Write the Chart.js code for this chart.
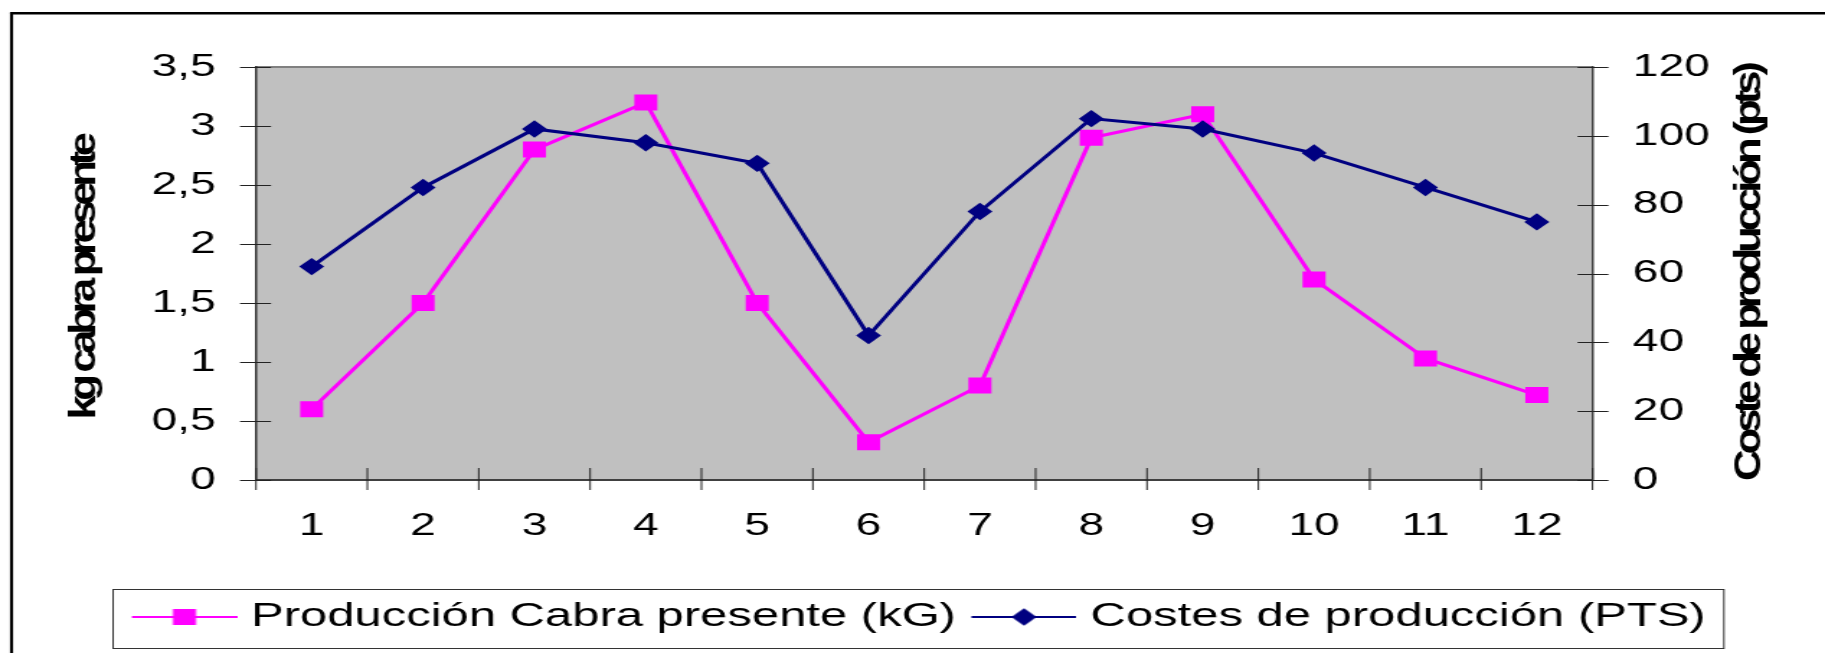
<!DOCTYPE html>
<html><head><meta charset="utf-8">
<script src="https://cdn.jsdelivr.net/npm/chart.js@4/dist/chart.umd.min.js"></script>
<style>html,body{margin:0;padding:0;background:#fff;overflow:hidden}
#c{display:block}</style></head>
<body><canvas id="c" width="1267" height="653" style="width:1825px;height:653px"></canvas>
<script>
// ---- data ----
const months = ['1','2','3','4','5','6','7','8','9','10','11','12'];
const produccion = [0.6, 1.5, 2.8, 3.2, 1.5, 0.32, 0.8, 2.9, 3.1, 1.7, 1.03, 0.72];
const costes = [62, 85, 102, 98, 92, 42, 78, 105, 102, 95, 85, 75];
const leftTickLabels = ['0','0,5','1','1,5','2','2,5','3','3,5'];
const rightTickLabels = ['0','20','40','60','80','100','120'];
const seriesNames = ['Producción Cabra presente (kG)', 'Costes de producción (PTS)'];
const axisTitles = ['kg cabra presente', 'Coste de producción (pts)'];

// ---- layout helpers ----
const CANVAS_W = 1267;
const S = 1825 / CANVAS_W;          // horizontal stretch of the picture
const a2i = v => v / S;             // picture px -> canvas px (x only)
const FONT = 'Arial, "Liberation Sans", sans-serif';
const PINK = '#FF00FF', NAVY = '#000080';

function makeIcon(color, kind) {
  const c = document.createElement('canvas');
  c.width = 81; c.height = 18;
  const g = c.getContext('2d');
  g.strokeStyle = color; g.lineWidth = 2;
  g.beginPath(); g.moveTo(8, 9); g.lineTo(81, 9); g.stroke();
  g.fillStyle = color;
  if (kind === 'rect') { g.fillRect(36.5, 1, 16, 16); }
  else {
    g.beginPath(); g.moveTo(44.5 - 8.7, 9); g.lineTo(44.5, 9 - 8.7);
    g.lineTo(44.5 + 8.7, 9); g.lineTo(44.5, 9 + 8.7); g.closePath(); g.fill();
  }
  return c;
}
const legendIcons = [makeIcon(PINK, 'rect'), makeIcon(NAVY, 'diamond')];

const framePlugin = {
  id: 'frame',
  beforeDraw(chart) {
    const {ctx, chartArea: ca} = chart;
    ctx.save();
    ctx.fillStyle = '#fff'; ctx.fillRect(0, 0, chart.width, chart.height);
    ctx.strokeStyle = '#000';
    ctx.lineWidth = 2.1;
    ctx.beginPath(); ctx.moveTo(a2i(11.5), 13); ctx.lineTo(a2i(11.5), chart.height + 5); ctx.stroke();
    ctx.lineWidth = 2.6;
    ctx.beginPath(); ctx.moveTo(a2i(10), 13.2); ctx.lineTo(chart.width + 5, 13.2); ctx.stroke();
    ctx.fillStyle = '#C0C0C0';
    ctx.fillRect(ca.left, ca.top, ca.right - ca.left, ca.bottom - ca.top);
    ctx.strokeStyle = '#808080'; ctx.lineWidth = 2;
    ctx.beginPath(); ctx.moveTo(ca.left, ca.top); ctx.lineTo(ca.right, ca.top); ctx.stroke();
    ctx.restore();
  }
};

const tickPlugin = {
  id: 'crossTicks',
  beforeDatasetsDraw(chart) {
    const {ctx, chartArea: ca, scales} = chart;
    ctx.save();
    ctx.strokeStyle = '#222'; ctx.lineWidth = 1;
    ctx.beginPath();
    scales.y.ticks.forEach(t => {
      const py = Math.round(scales.y.getPixelForValue(t.value)) + 0.5;
      ctx.moveTo(ca.left - a2i(16), py); ctx.lineTo(ca.left + a2i(15), py);
    });
    scales.y1.ticks.forEach(t => {
      const py = Math.round(scales.y1.getPixelForValue(t.value)) + 0.5;
      ctx.moveTo(ca.right - a2i(15), py); ctx.lineTo(ca.right + a2i(16), py);
    });
    for (let i = 0; i <= months.length; i++) {
      const px = scales.x.getPixelForValue(i - 0.5);
      ctx.moveTo(px, ca.bottom - 12); ctx.lineTo(px, ca.bottom + 10);
    }
    ctx.stroke();
    ctx.restore();
  }
};

function drawVTitle(ctx, text, xPic, yCenter, spacing) {
  ctx.save();
  ctx.translate(a2i(xPic), yCenter);
  ctx.scale(1 / S, 1);
  ctx.rotate(-Math.PI / 2);
  ctx.scale(1.15, 1);
  ctx.font = 'bold 38px ' + FONT;
  ctx.letterSpacing = spacing + 'px';
  ctx.textAlign = 'center';
  ctx.textBaseline = 'middle';
  ctx.fillStyle = '#000';
  ctx.fillText(text, 0, 0);
  ctx.restore();
}

const extrasPlugin = {
  id: 'extras',
  afterDraw(chart) {
    const {ctx, chartArea: ca} = chart;
    const mid = (ca.top + ca.bottom) / 2;
    drawVTitle(ctx, axisTitles[0], 84.5, mid + 5, -4.7);
    drawVTitle(ctx, axisTitles[1], 1749.5, mid, -4.4);
    // legend frame
    const lg = chart.legend;
    const hb = lg.legendHitBoxes;
    if (hb && hb.length) {
      const left = hb[0].left - a2i(18);
      const last = hb[hb.length - 1];
      const right = last.left + last.width + a2i(18);
      ctx.save();
      ctx.strokeStyle = '#333'; ctx.lineWidth = 1;
      ctx.strokeRect(Math.round(left) + 0.5, Math.round(lg.top - 1) + 0.5, right - left, 59);
      ctx.restore();
    }
  }
};

new Chart(document.getElementById('c'), {
  type: 'line',
  data: {
    labels: months,
    datasets: [
      { label: seriesNames[0], data: produccion, yAxisID: 'y',
        borderColor: PINK, backgroundColor: PINK, borderWidth: 3, tension: 0,
        pointStyle: 'rect', pointRadius: 11.3, pointBorderWidth: 0,
        pointBackgroundColor: PINK, order: 1 },
      { label: seriesNames[1], data: costes, yAxisID: 'y1',
        borderColor: NAVY, backgroundColor: NAVY, borderWidth: 3, tension: 0,
        pointStyle: 'rectRot', pointRadius: 8.7, pointBorderWidth: 0,
        pointBackgroundColor: NAVY, order: 0 }
    ]
  },
  options: {
    responsive: false, animation: false, devicePixelRatio: 1,
    layout: { padding: { left: 8, right: 0, top: 67, bottom: 9 } },
    plugins: {
      tooltip: { enabled: false },
      title: { display: false },
      legend: {
        position: 'bottom',
        labels: {
          usePointStyle: true, pointStyleWidth: 66.4, padding: 10, color: '#000',
          font: { family: FONT, size: 34 },
          sort: (a, b) => a.datasetIndex - b.datasetIndex,
          generateLabels(chart) {
            const items = Chart.defaults.plugins.legend.labels.generateLabels(chart);
            items.forEach(it => { it.pointStyle = legendIcons[it.datasetIndex]; it.lineWidth = 0; });
            return items;
          }
        }
      }
    },
    scales: {
      x: {
        type: 'category', offset: true,
        grid: { display: false, drawTicks: false },
        border: { display: true, color: '#404040', width: 2 },
        ticks: { padding: 27, color: '#000', font: { family: FONT, size: 32 }, maxRotation: 0, autoSkip: false },
        afterFit(s) { const c = s.chart; s.height = c.height - 9 - (c.legend ? c.legend.height : 54) - 480; }
      },
      y: {
        position: 'left', min: 0, max: 3.5,
        grid: { display: false, drawTicks: false },
        border: { display: true, color: '#333', width: 1.5 },
        ticks: { stepSize: 0.5, padding: 28, color: '#000', font: { family: FONT, size: 32 },
                 callback: v => leftTickLabels[Math.round(v / 0.5)] },
        afterFit(s) { s.width = a2i(256) - 8; }
      },
      y1: {
        position: 'right', min: 0, max: 120,
        grid: { display: false, drawTicks: false },
        border: { display: true, color: '#404040', width: 1.5 },
        ticks: { stepSize: 20, padding: 28, color: '#000', font: { family: FONT, size: 32 },
                 callback: v => rightTickLabels[Math.round(v / 20)] },
        afterFit(s) { s.width = CANVAS_W - a2i(1592.5); }
      }
    }
  },
  plugins: [framePlugin, tickPlugin, extrasPlugin]
});
</script>
</body></html>
